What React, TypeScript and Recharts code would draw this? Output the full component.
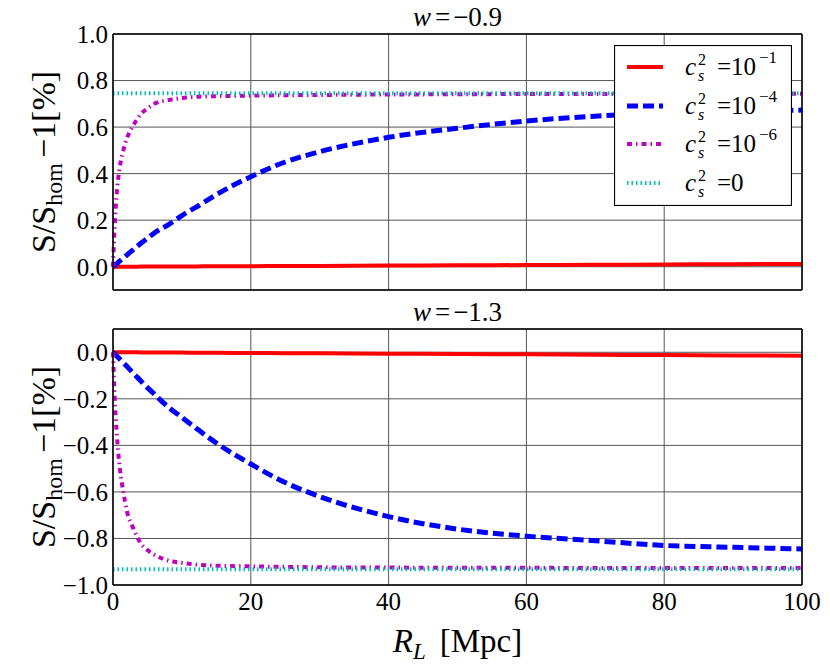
import React from "react";
import { CartesianGrid, Legend, Line, LineChart, XAxis, YAxis } from "recharts";

// R_L sample points [Mpc] (denser near 0 where the c_s^2 = 1e-6 curve turns)
const rL = [0, 0.25, 0.5, 1, 1.5, 2, 3, 4, 5, 6, 8, 10, 12, 15, 20, 25, 30, 40, 50, 60, 70, 80, 90, 100];

// w = -0.9
const topCs1 = [0, 0, 0, 0, 0, 0, 0, 0.0005, 0.0006, 0.0007, 0.001, 0.0012, 0.0015, 0.002, 0.0025, 0.003, 0.0035, 0.0048, 0.006, 0.0072, 0.0084, 0.0096, 0.0108, 0.012];
const topCs4 = [0, 0.006, 0.012, 0.025, 0.037, 0.05, 0.075, 0.1, 0.122, 0.145, 0.18, 0.22, 0.255, 0.31, 0.387, 0.45, 0.494, 0.556, 0.595, 0.626, 0.647, 0.66, 0.668, 0.673];
const topCs6 = [0, 0.18, 0.3, 0.43, 0.5, 0.55, 0.61, 0.655, 0.68, 0.7, 0.716, 0.725, 0.73, 0.733, 0.735, 0.737, 0.738, 0.74, 0.741, 0.742, 0.742, 0.743, 0.743, 0.743];
const topCs0 = [0.745, 0.745, 0.745, 0.745, 0.745, 0.745, 0.745, 0.745, 0.745, 0.745, 0.745, 0.745, 0.745, 0.745, 0.745, 0.745, 0.745, 0.745, 0.745, 0.745, 0.745, 0.745, 0.745, 0.745];

// w = -1.3
const botCs1 = [0, 0, 0, 0, 0, 0, 0, -0.0005, -0.0007, -0.0009, -0.0012, -0.0015, -0.0018, -0.0023, -0.003, -0.0038, -0.0045, -0.006, -0.0075, -0.009, -0.0105, -0.012, -0.0135, -0.015];
const botCs4 = [0, -0.008, -0.015, -0.03, -0.045, -0.06, -0.092, -0.122, -0.152, -0.18, -0.235, -0.28, -0.325, -0.39, -0.48, -0.56, -0.62, -0.706, -0.76, -0.79, -0.81, -0.83, -0.838, -0.845];
const botCs6 = [0, -0.2, -0.33, -0.5, -0.6, -0.68, -0.76, -0.82, -0.85, -0.87, -0.895, -0.905, -0.912, -0.917, -0.92, -0.922, -0.924, -0.925, -0.926, -0.926, -0.927, -0.927, -0.927, -0.927];
const botCs0 = [-0.932, -0.932, -0.932, -0.932, -0.932, -0.932, -0.932, -0.932, -0.932, -0.932, -0.932, -0.932, -0.932, -0.932, -0.932, -0.932, -0.932, -0.932, -0.932, -0.932, -0.932, -0.932, -0.932, -0.932];

const xTicks = [0, 20, 40, 60, 80, 100];
const topTicks = [0, 0.2, 0.4, 0.6, 0.8, 1.0];
const botTicks = [-1.0, -0.8, -0.6, -0.4, -0.2, 0];

const legendExponents = ["−1", "−4", "−6", ""];

const FONT = "Liberation Serif";

const series = [
  { key: "cs1", color: "#ff0000", width: 4, dash: undefined },
  { key: "cs4", color: "#0000ff", width: 5, dash: "11 5" },
  { key: "cs6", color: "#bf00bf", width: 4, dash: "5 4 1.5 4" },
  { key: "cs0", color: "#00bfbf", width: 4, dash: "1.5 3" },
];

const topData = rL.map((x, i) => ({ x, cs1: topCs1[i], cs4: topCs4[i], cs6: topCs6[i], cs0: topCs0[i] }));
const botData = rL.map((x, i) => ({ x, cs1: botCs1[i], cs4: botCs4[i], cs6: botCs6[i], cs0: botCs0[i] }));

const fmt = (v: number) => (v < 0 ? "−" : "") + Math.abs(v).toFixed(1);

const tickStyle = { fontSize: 25, fill: "#000", fontFamily: FONT };
const noTick = () => <g />;

function yLabel(props: any) {
  const vb = props.viewBox;
  const cx = 55;
  const cy = vb.y + vb.height / 2;
  return (
    <text
      transform={`rotate(-90 ${cx} ${cy})`}
      x={cx}
      y={cy}
      textAnchor="middle"
      fontSize={34}
      fontFamily={FONT}
      fill="#000"
    >
      <tspan>S/S</tspan>
      <tspan fontSize={24} dy={7}>hom</tspan>
      <tspan dy={-7} dx={5}>−1[%]</tspan>
    </text>
  );
}

function title(text: string) {
  return (props: any) => {
    const vb = props.viewBox;
    return (
      <text x={vb.x + vb.width / 2} y={vb.y - 7} textAnchor="middle" fontSize={27} fontFamily={FONT} fill="#000">
        <tspan fontStyle="italic">w</tspan>
        <tspan dx={4}>=</tspan>
        <tspan dx={3}>{text}</tspan>
      </text>
    );
  };
}

function xLabel(props: any) {
  const vb = props.viewBox;
  return (
    <text x={vb.x + vb.width / 2} y={vb.y + 67} textAnchor="middle" fontSize={33} fontFamily={FONT} fill="#000">
      <tspan fontStyle="italic">R</tspan>
      <tspan fontStyle="italic" fontSize={23} dy={7}>L</tspan>
      <tspan dy={-7} dx={14}>[Mpc]</tspan>
    </text>
  );
}

function LegendBox() {
  const rows = [22, 61, 99, 138];
  return (
    <svg width={178} height={161} style={{ display: "block" }}>
      <rect x={0.5} y={0.5} width={177} height={160} fill="#fff" stroke="#000" strokeWidth={1.2} />
      {series.map((s, i) => (
        <g key={s.key}>
          <line x1={13} x2={49} y1={rows[i]} y2={rows[i]} stroke={s.color} strokeWidth={s.width} strokeDasharray={s.dash} />
          <text fontFamily={FONT} fill="#000">
            <tspan x={71} y={rows[i] + 8} fontSize={25} fontStyle="italic">c</tspan>
            <tspan x={84} y={rows[i] - 2} fontSize={16}>2</tspan>
            <tspan x={84} y={rows[i] + 14} fontSize={16} fontStyle="italic">s</tspan>
            <tspan x={103} y={rows[i] + 8} fontSize={25}>{legendExponents[i] ? "=10" : "=0"}</tspan>
            {legendExponents[i] ? (
              <tspan x={145} y={rows[i] - 4} fontSize={17}>{legendExponents[i]}</tspan>
            ) : null}
          </text>
        </g>
      ))}
    </svg>
  );
}

function Panel({ data, domain, ticks, top, height, margin, titleText, bottom }: any) {
  return (
    <div style={{ position: "absolute", left: 0, top, width: 830, height }}>
      <LineChart width={830} height={height} data={data} margin={margin}>
        <CartesianGrid stroke="#555" strokeWidth={1} />
        <XAxis
          dataKey="x"
          type="number"
          domain={[0, 100]}
          ticks={xTicks}
          tick={bottom ? tickStyle : noTick}
          tickLine={false}
          tickSize={0}
          tickMargin={7}
          height={bottom ? 40 : 1}
          axisLine={{ stroke: "#000", strokeWidth: 1.5 }}
          label={bottom ? xLabel : undefined}
        />
        <XAxis
          xAxisId="top"
          dataKey="x"
          type="number"
          domain={[0, 100]}
          ticks={xTicks}
          orientation="top"
          tick={noTick}
          tickLine={false}
          height={1}
          axisLine={{ stroke: "#000", strokeWidth: 1.5 }}
          label={title(titleText)}
        />
        <YAxis
          type="number"
          domain={domain}
          ticks={ticks}
          allowDataOverflow
          width={113}
          tick={tickStyle}
          tickLine={false}
          tickSize={0}
          tickMargin={5}
          tickFormatter={fmt}
          axisLine={{ stroke: "#000", strokeWidth: 1.5 }}
          label={yLabel}
        />
        <YAxis
          yAxisId="right"
          orientation="right"
          type="number"
          domain={domain}
          ticks={ticks}
          width={1}
          tick={noTick}
          tickLine={false}
          axisLine={{ stroke: "#000", strokeWidth: 1.5 }}
        />
        {series.map((s) => (
          <Line
            key={s.key}
            type="monotone"
            dataKey={s.key}
            stroke={s.color}
            strokeWidth={s.width}
            strokeDasharray={s.dash}
            dot={false}
            isAnimationActive={false}
          />
        ))}
        {!bottom ? (
          <Legend
            layout="vertical"
            align="center"
            verticalAlign="middle"
            content={() => <LegendBox />}
            wrapperStyle={{ left: 614, top: 45, width: 178, height: 161 }}
          />
        ) : null}
      </LineChart>
    </div>
  );
}

export default function App() {
  return (
    <div
      style={{
        position: "absolute",
        left: 0,
        top: 0,
        width: 830,
        height: 671,
        background: "#fff",
        fontFamily: "'Liberation Serif', 'DejaVu Serif', serif",
      }}
    >
      <Panel
        data={topData}
        domain={[-0.1, 1.0]}
        ticks={topTicks}
        top={0}
        height={300}
        margin={{ top: 33, right: 27, bottom: 9, left: 0 }}
        titleText="−0.9"
        bottom={false}
      />
      <Panel
        data={botData}
        domain={[-1.0, 0.1]}
        ticks={botTicks}
        top={290}
        height={381}
        margin={{ top: 38, right: 27, bottom: 46, left: 0 }}
        titleText="−1.3"
        bottom
      />
    </div>
  );
}
